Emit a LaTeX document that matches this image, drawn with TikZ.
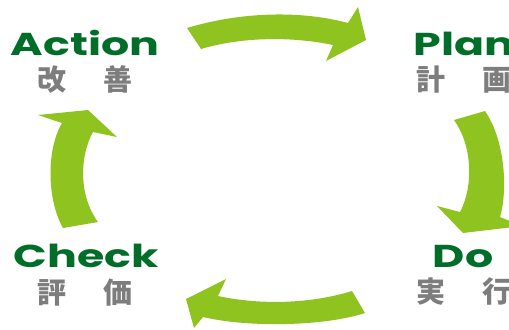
\documentclass[tikz,border=0pt]{standalone}
\usepackage{fontspec}
\usepackage{tikz}
\usetikzlibrary{positioning}
\newfontfamily\stagefont[FakeStretch=1.4]{Poppins}
\newfontfamily\jpfont{Noto Sans CJK JP}
\definecolor{colArrow}{RGB}{143,195,31}
\definecolor{colStage}{RGB}{0,110,40}
\definecolor{colJp}{RGB}{125,125,125}
\tikzset{
  cyclearrow/.style = {fill=colArrow, draw=none},
  stagename/.style  = {text=colStage, inner sep=0pt, anchor=base,
                       font=\stagefont\bfseries\fontsize{18pt}{18pt}\selectfont},
  stagejp/.style    = {text=colJp, inner sep=0pt, anchor=center,
                       font=\jpfont\bfseries\fontsize{16.5pt}{16.5pt}\selectfont},
}
\begin{document}
\begin{tikzpicture}[x=0.02cm, y=-0.02cm]
\useasboundingbox (0,0) rectangle (509,329);
\clip (0,0) rectangle (509,329);

%% ── Stage labels ──────────────────────────────────────────
\node[stagename] (act)   at (85,55)   {Action};
\node[stagejp]   (actjp) at (85,80)   {改\hspace{1.25em}善};
\node[stagename] (plan)  at (464,55)  {Plan};
\node[stagejp]   (planjp)at (464,80)  {計\hspace{1.25em}画};
\node[stagename] (do)    at (463,267) {Do};
\node[stagejp]   (dojp)  at (464,292) {実\hspace{1.25em}行};
\node[stagename] (chk)   at (86,267)  {Check};
\node[stagejp]   (chkjp) at (85,292)  {評\hspace{1.25em}価};

%% ── Cycle arrows ──────────────────────────────────────────
% Action -> Plan
\fill[cyclearrow] (187,28) .. controls (240,12) and (300,10) .. (348,23)
  -- (358,7) -- (366,40) -- (326,61) -- (333,45)
  .. controls (295,37) and (245,36) .. (201,49) -- cycle;
% Plan -> Do
\fill[cyclearrow] (454,120) -- (485,111) .. controls (505,140) and (508,190) .. (500,217)
  -- (522,226) -- (463,233) -- (437,206) -- (460,212)
  .. controls (474,185) and (472,145) .. (454,120) -- cycle;
% Do -> Check
\fill[cyclearrow] (352,291) -- (365,313) .. controls (325,326) and (250,328) .. (203,317)
  -- (194,328) -- (186,299) -- (226,279) -- (218,296)
  .. controls (260,305) and (310,304) .. (352,291) -- cycle;
% Check -> Action
\fill[cyclearrow] (98,222) -- (63,228) .. controls (47,200) and (46,150) .. (62,123)
  -- (38,115) -- (88,110) -- (117,137) -- (93,132)
  .. controls (80,155) and (78,195) .. (98,222) -- cycle;

\end{tikzpicture}
\end{document}
